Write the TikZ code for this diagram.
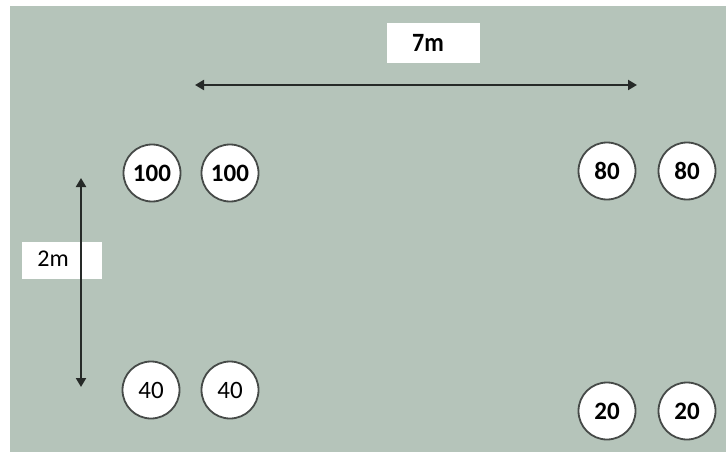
\documentclass[tikz,border=0pt]{standalone}
\usepackage{fontspec}
\setmainfont{Carlito}
\usetikzlibrary{arrows.meta}
\definecolor{floor}{RGB}{181,196,186}
\definecolor{rim}{RGB}{70,74,72}
\definecolor{dimline}{RGB}{38,42,40}
\tikzset{
  spot/.style={circle, draw=rim, line width=1.8pt, fill=white, minimum size=57pt, inner sep=0pt, font=\fontsize{25}{25}\selectfont},
  boldspot/.style={spot, font=\fontsize{25}{25}\selectfont\bfseries},
  tag/.style={fill=white, draw=none, inner sep=0pt},
  dimarrow/.style={draw=dimline, line width=2pt, {Triangle[length=9pt,width=10pt]}-{Triangle[length=9pt,width=10pt]}}
}
\begin{document}
\begin{tikzpicture}[x=1pt,y=-1pt]
  \useasboundingbox (0,0) rectangle (726,452);
  \fill[white] (0,0) rectangle (726,452);
  \fill[floor] (10,6) rectangle (726,452);

  % dimension labels
  \node[tag, minimum width=93pt, minimum height=40pt] (w) at (433.5,43) {};
  \node[font=\fontsize{24}{24}\selectfont\bfseries, yscale=1.1] (wt) at (428,43) {7m};
  \node[tag, minimum width=80pt, minimum height=37pt] (h) at (62,260.5) {};
  \node[font=\fontsize{24}{24}\selectfont] (ht) at (53,259) {2m};

  % dimension lines
  \coordinate (wl) at (195,85);
  \coordinate (wr) at (637,85);
  \draw[dimarrow] (wl) -- (wr);
  \coordinate (ht0) at (81,178);
  \coordinate (hb0) at (81,387);
  \draw[dimarrow] (ht0) -- (hb0);

  % loads
  \node[boldspot] (a1) at (152,173) {100};
  \node[boldspot] (a2) at (230,173) {100};
  \node[boldspot] (b1) at (607,171) {80};
  \node[boldspot] (b2) at (687,171) {80};
  \node[spot] (c1) at (151,390) {40};
  \node[spot] (c2) at (230,390) {40};
  \node[boldspot] (d1) at (607,411) {20};
  \node[boldspot] (d2) at (687,411) {20};
\end{tikzpicture}
\end{document}
